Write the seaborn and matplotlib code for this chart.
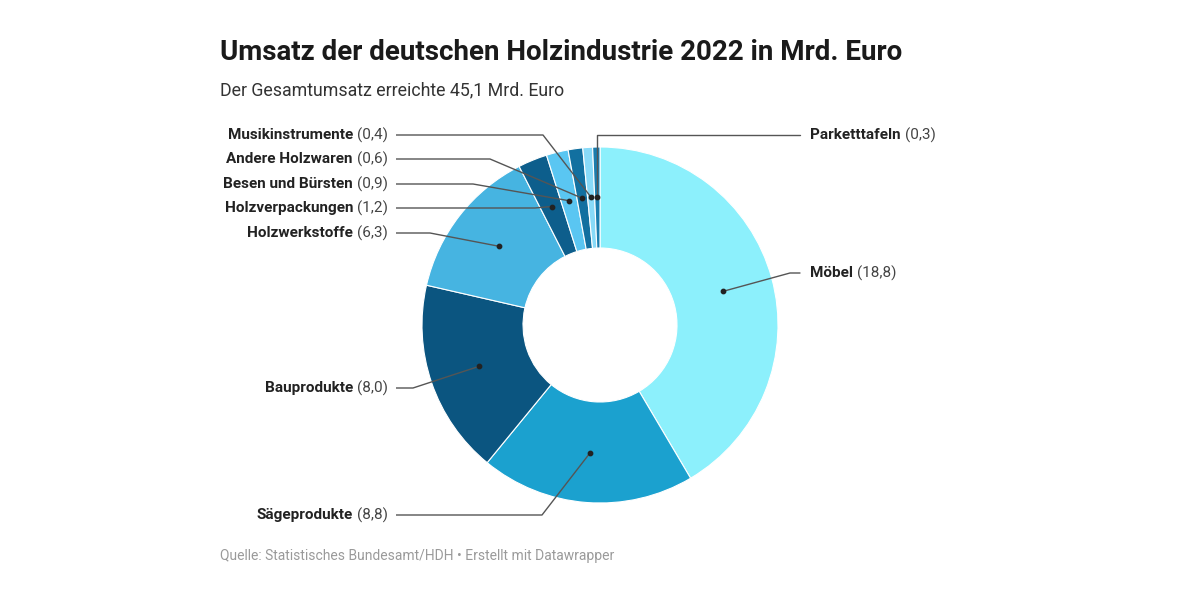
import numpy as np
import matplotlib
matplotlib.use("Agg")
import matplotlib.pyplot as plt
import seaborn as sns

# data (Mrd. Euro), clockwise from 12 o'clock
categories = ["Möbel", "Sägeprodukte", "Bauprodukte", "Holzwerkstoffe",
              "Holzverpackungen", "Besen und Bürsten", "Andere Holzwaren",
              "Musikinstrumente", "Parketttafeln"]
values = [18.8, 8.8, 8.0, 6.3, 1.2, 0.9, 0.6, 0.4, 0.3]
value_labels = ["18,8", "8,8", "8,0", "6,3", "1,2", "0,9", "0,6", "0,4", "0,3"]
colors = ["#8CF0FC", "#1BA1CF", "#0B5580", "#46B4E1", "#0D5E8C",
          "#5AC6F2", "#1270A0", "#88DAF8", "#1A7DAE"]

title = "Umsatz der deutschen Holzindustrie 2022 in Mrd. Euro"
subtitle = "Der Gesamtumsatz erreichte 45,1 Mrd. Euro"
source = "Quelle: Statistisches Bundesamt/HDH \u2022 Erstellt mit Datawrapper"

# label layout: side, label y (px from top), elbow x (px)
label_side = ["R", "L", "L", "L", "L", "L", "L", "L", "R"]
label_y = [273, 515, 388, 233, 208, 184, 159, 135, 135]
elbow_x = [790, 542, 413, 430, 535, 473, 490, 543, 597]

sns.set_theme(style="white")
plt.rcParams["font.family"] = ["Roboto", "DejaVu Sans"]

W, H = 1200, 600
fig = plt.figure(figsize=(12, 6), dpi=100)
ax = fig.add_axes([0, 0, 1, 1])

cx, cy = 600, H - 325
r_out, r_in = 178, 77
wedges, _ = ax.pie(values, colors=colors, startangle=90, counterclock=False,
                   radius=r_out, center=(cx, cy),
                   wedgeprops=dict(width=r_out - r_in, edgecolor="white", linewidth=0.8))
ax.set_xlim(0, W)
ax.set_ylim(0, H)
ax.set_aspect("equal")
ax.axis("off")

fig.text(220 / W, 1 - 52 / H, title, fontsize=20, fontweight="bold",
         color="#1a1a1a", va="center", ha="left")
fig.text(220 / W, 1 - 90 / H, subtitle, fontsize=12.8, color="#333333",
         va="center", ha="left")
fig.text(220 / W, 1 - 556 / H, source, fontsize=10, color="#9a9a9a",
         va="center", ha="left")

renderer = fig.canvas.get_renderer()
line_col = "#555555"
fs = 11
r_mid = (r_out + r_in) / 2 + 0.5
for w, name, val, side, ly, ex in zip(wedges, categories, value_labels,
                                       label_side, label_y, elbow_x):
    ang = np.deg2rad((w.theta1 + w.theta2) / 2)
    dx, dy = cx + r_mid * np.cos(ang), cy + r_mid * np.sin(ang)
    y = H - ly
    if side == "L":
        ax.plot([396, ex, dx], [y, y, dy], color=line_col, lw=1, solid_capstyle="butt")
        t = ax.text(388, y, f"({val})", ha="right", va="center",
                    fontsize=fs, color="#444444")
        bb = t.get_window_extent(renderer)
        ax.text(bb.x0 - 4, y, name, ha="right", va="center", fontsize=fs,
                fontweight="bold", color="#222222")
    else:
        if ex == 597:
            ax.plot([800, dx, dx], [y, y, dy], color=line_col, lw=1)
        else:
            ax.plot([800, ex, dx], [y, y, dy], color=line_col, lw=1)
        t = ax.text(810, y, name, ha="left", va="center", fontsize=fs,
                    fontweight="bold", color="#222222")
        bb = t.get_window_extent(renderer)
        ax.text(bb.x1 + 4, y, f"({val})", ha="left", va="center",
                fontsize=fs, color="#444444")
    ax.scatter([dx], [dy], s=10, color="#222222", zorder=5)

fig.savefig("out.png", dpi=100, facecolor="white")
